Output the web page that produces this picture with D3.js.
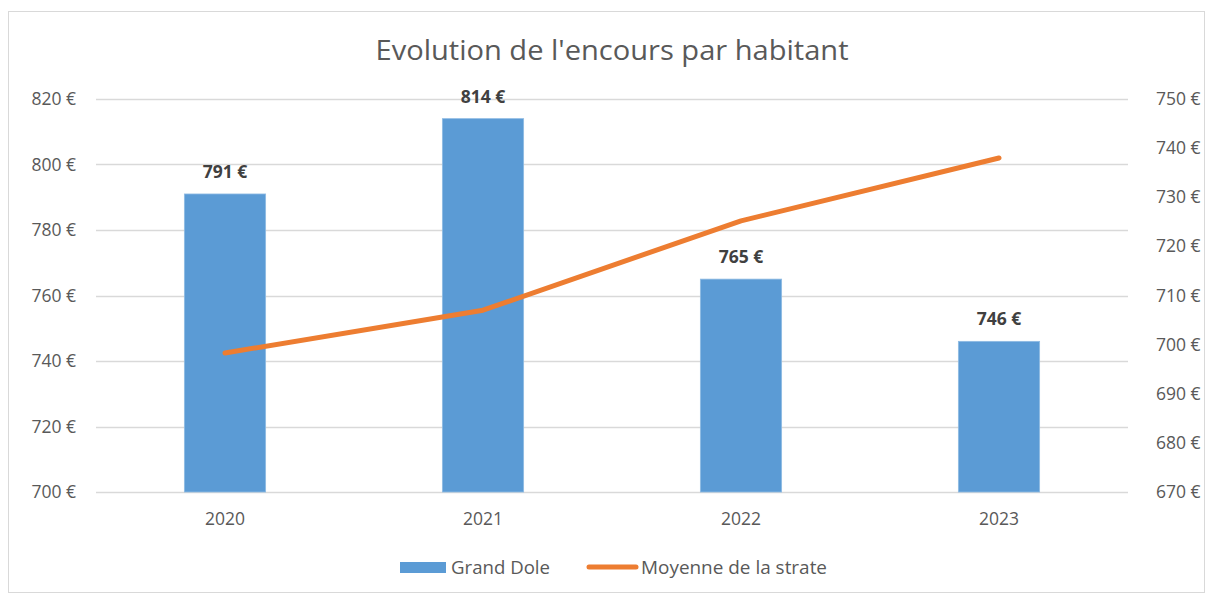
<!DOCTYPE html>
<html>
<head>
<meta charset="utf-8">
<script src="https://cdn.jsdelivr.net/npm/d3@7"></script>
<style>
  body { margin: 0; background: #fff; }
  svg text { font-family: "Open Sans", "Liberation Sans", sans-serif; }
</style>
</head>
<body>
<svg id="vis" width="1206" height="594"></svg>
<script>
// chart data
const years = ["2020", "2021", "2022", "2023"];
const grandDole = [791, 814, 765, 746];
const moyenneStrate = [698.3, 707, 725.2, 738];
const leftTicks = [700, 720, 740, 760, 780, 800, 820];
const rightTicks = [670, 680, 690, 700, 710, 720, 730, 740, 750];

const margin = { top: 99, right: 78, bottom: 102, left: 96 };
const W = 1206, H = 594;

translate = function(a, b) {
  return "translate(" + a + ", " + b + ")";
}

const svg = d3.select("#vis");
const plotWidth = W - margin.left - margin.right;
const plotHeight = H - margin.top - margin.bottom;

// frame
svg.append("rect")
  .attr("x", 8.5).attr("y", 11.5)
  .attr("width", 1196).attr("height", 581)
  .attr("fill", "#fff").attr("stroke", "#d9d9d9");

svg.append("text")
  .attr("x", 612).attr("y", 60)
  .attr("text-anchor", "middle")
  .attr("font-size", 28)
  .attr("fill", "#595959")
  .attr("textLength", 473)
  .attr("lengthAdjust", "spacingAndGlyphs")
  .text("Evolution de l'encours par habitant");

const plot = svg.append("g").attr("transform", translate(margin.left, margin.top));

const x = d3.scaleBand().domain(years).range([0, plotWidth]).paddingInner(0.685).paddingOuter(0.3425);
const yL = d3.scaleLinear().domain([700, 820]).range([plotHeight, 0]);
const yR = d3.scaleLinear().domain([670, 750]).range([plotHeight, 0]);

// gridlines
plot.append("g")
  .selectAll("line")
  .data(leftTicks)
  .enter().append("line")
  .attr("x1", 0).attr("x2", plotWidth)
  .attr("y1", d => Math.round(yL(d)) + 0.5)
  .attr("y2", d => Math.round(yL(d)) + 0.5)
  .attr("stroke", "#d9d9d9")
  .attr("stroke-width", 1.3);

const fmt = d => d + " €";

function styleAxis(g) {
  g.select(".domain").remove();
  g.selectAll("text")
    .attr("font-size", 17.5)
    .attr("fill", "#595959")
    .attr("font-family", "\"Open Sans\", sans-serif");
}

// left axis
plot.append("g")
  .call(d3.axisLeft(yL).tickValues(leftTicks).tickFormat(fmt).tickSize(0).tickPadding(20))
  .call(styleAxis);

// right axis
plot.append("g")
  .attr("transform", translate(plotWidth, 0))
  .call(d3.axisRight(yR).tickValues(rightTicks).tickFormat(fmt).tickSize(0).tickPadding(28))
  .call(styleAxis);

// x axis
plot.append("g")
  .attr("transform", translate(0, plotHeight))
  .call(d3.axisBottom(x).tickSize(0).tickPadding(21))
  .call(styleAxis);

// bars
plot.append("g")
  .selectAll("rect")
  .data(grandDole)
  .enter().append("rect")
  .attr("x", (d, i) => x(years[i]))
  .attr("y", d => yL(d))
  .attr("width", x.bandwidth())
  .attr("height", d => plotHeight - yL(d))
  .attr("fill", "#5b9bd5")
  .attr("stroke", "#8fbbe3")
  .attr("stroke-width", 0.8);

// bar labels
plot.append("g")
  .selectAll("text")
  .data(grandDole)
  .enter().append("text")
  .attr("x", (d, i) => x(years[i]) + x.bandwidth() / 2)
  .attr("y", d => yL(d) - 16)
  .attr("text-anchor", "middle")
  .attr("font-size", 17.5)
  .attr("font-weight", "bold")
  .attr("fill", "#404040")
  .text(d => d + "  €");

// line
const line = d3.line()
  .x((d, i) => x(years[i]) + x.bandwidth() / 2)
  .y(d => yR(d));

plot.append("path")
  .datum(moyenneStrate)
  .attr("d", line)
  .attr("fill", "none")
  .attr("stroke", "#ed7d31")
  .attr("stroke-width", 5)
  .attr("stroke-linecap", "round")
  .attr("stroke-linejoin", "round");

// legend
const leg = svg.append("g");
leg.append("rect")
  .attr("x", 400).attr("y", 562)
  .attr("width", 46).attr("height", 11)
  .attr("fill", "#5b9bd5");
leg.append("text")
  .attr("x", 451).attr("y", 574)
  .attr("font-size", 17.5).attr("fill", "#595959")
  .attr("textLength", 99)
  .attr("lengthAdjust", "spacingAndGlyphs")
  .text("Grand Dole");
leg.append("line")
  .attr("x1", 589).attr("x2", 636)
  .attr("y1", 567).attr("y2", 567)
  .attr("stroke", "#ed7d31").attr("stroke-width", 5)
  .attr("stroke-linecap", "round");
leg.append("text")
  .attr("x", 641).attr("y", 574)
  .attr("font-size", 17.5).attr("fill", "#595959")
  .attr("textLength", 186)
  .attr("lengthAdjust", "spacingAndGlyphs")
  .text("Moyenne de la strate");
</script>
</body>
</html>
